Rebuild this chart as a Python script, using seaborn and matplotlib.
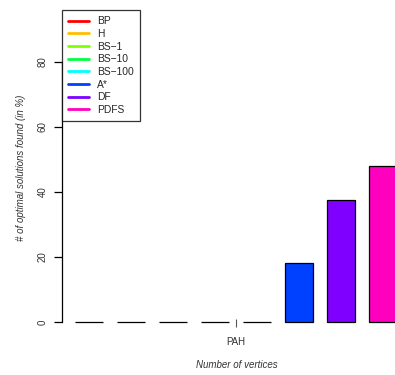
import matplotlib
matplotlib.use("Agg")
import matplotlib.pyplot as plt
from matplotlib.lines import Line2D
import seaborn as sns
import pandas as pd

# Share of optimal solutions found per algorithm on the PAH instance set
algorithms = ["BP", "H", "BS\u22121", "BS\u221210", "BS\u2212100", "A*", "DF", "PDFS"]
optimal_pct = [0, 0, 0, 0, 0, 18.1, 37.4, 48.0]
group = ["PAH"] * len(algorithms)
colors = ["#FF0000", "#FFBF00", "#80FF00", "#00FF40",
          "#00FFFF", "#0040FF", "#8000FF", "#FF00BF"]
y_ticks = [0, 20, 40, 60, 80]

df = pd.DataFrame({"set": group, "algorithm": algorithms, "pct": optimal_pct})

sns.set_style("white")
plt.rcParams["font.family"] = ["Liberation Sans", "DejaVu Sans"]

W, H = 395, 375
fig = plt.figure(figsize=(W / 100, H / 100), dpi=100)
ax_left, ax_right, ax_top, ax_bottom = 62, 410, 10, 334
ax = fig.add_axes([ax_left / W, (H - ax_bottom) / H,
                   (ax_right - ax_left) / W, (ax_bottom - ax_top) / H])

sns.barplot(data=df, x="set", y="pct", hue="algorithm", hue_order=algorithms,
            palette=colors, saturation=1, width=1.0, gap=1 / 3,
            edgecolor="black", linewidth=0.9, legend=False, ax=ax)

ax.set_xlim(-0.518, 0.518)
ax.set_ylim(-3.69, 96)

for side in ["top", "right"]:
    ax.spines[side].set_visible(False)
ax.spines["left"].set_bounds(0, 80)
ax.spines["left"].set_linewidth(0.9)
ax.spines["left"].set_color("black")
ax.spines["bottom"].set_position(("data", -0.4))
ax.spines["bottom"].set_visible(False)

ax.set_yticks(y_ticks)
ax.set_yticklabels([str(t) for t in y_ticks], rotation=90, va="center")
ax.tick_params(axis="y", left=True, length=6, width=0.9, color="black",
               pad=4.5, labelsize=7, labelcolor="#333333")
ax.tick_params(axis="x", bottom=True, direction="inout", length=6, width=0.8,
               color="#555555", pad=7, labelsize=7, labelcolor="#333333")

ax.set_xlabel("Number of vertices", fontsize=7, style="italic",
              color="#333333", va="center")
ax.xaxis.set_label_coords((237 - ax_left) / (ax_right - ax_left),
                          (ax_bottom - 365) / (ax_bottom - ax_top))
ax.set_ylabel("# of optimal solutions found (in %)", fontsize=7,
              style="italic", color="#333333", va="center")
ax.yaxis.set_label_coords((21 - ax_left) / (ax_right - ax_left),
                          (ax_bottom - 168) / (ax_bottom - ax_top))

handles = [Line2D([], [], color=c, lw=2) for c in colors]
leg = ax.legend(handles, algorithms, loc="upper left", bbox_to_anchor=(0, 1),
                frameon=True, fancybox=False, fontsize=7.4, handlelength=2.0,
                handletextpad=0.8, labelspacing=0.26, borderpad=0.6,
                borderaxespad=0, edgecolor="black")
leg.get_frame().set_linewidth(0.9)

fig.savefig("out.png", dpi=100)
